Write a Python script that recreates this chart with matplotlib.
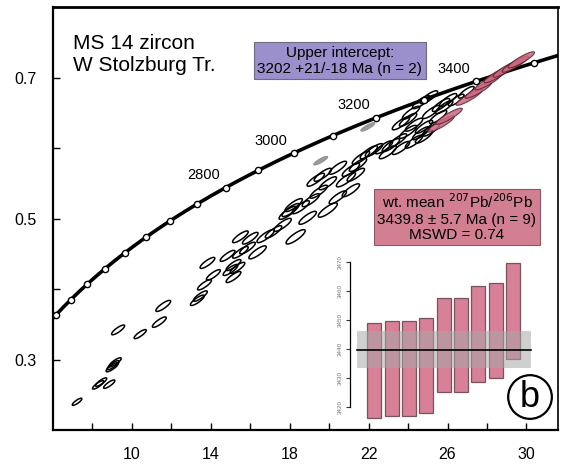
import numpy as np
import matplotlib
matplotlib.use("Agg")
from matplotlib import pyplot as plt
from matplotlib.patches import Polygon

plt.rcParams['font.family'] = ['Liberation Sans', 'DejaVu Sans']

# decay constants (per year)
l238 = 1.55125e-10
l235 = 9.8485e-10

# concordia age markers (Ma) and labelled ones
ages = [2000, 2100, 2200, 2300, 2400, 2500, 2600, 2700, 2800, 2900,
        3000, 3100, 3200, 3300, 3400, 3500]
age_labels = [2800, 3000, 3200, 3400]

# zircon analyses: 207Pb/235U, 206Pb/238U, relative ellipse size
ell_x = [7.22, 8.29, 8.44, 8.85, 9.00, 9.05, 9.15, 9.30, 10.42, 11.39, 11.59,
         13.32, 13.47, 13.68, 13.83, 14.13, 14.85, 15.00, 15.15, 15.35, 15.15,
         15.50, 15.86, 16.37, 15.50, 16.00, 16.78, 17.18, 17.64, 17.90, 18.05,
         18.20, 18.91, 18.30, 18.56, 19.07, 19.47, 19.93, 19.68, 19.32, 20.44,
         21.10, 21.46, 20.85, 21.10, 20.44, 19.93, 21.61, 22.01, 21.35, 22.27,
         22.78, 22.98, 23.13, 23.49, 23.64, 23.64, 24.00, 24.00, 24.15, 24.30,
         24.30, 24.66, 24.66, 24.81, 24.81, 25.06, 25.17, 25.17, 25.52, 25.67,
         25.83, 26.03, 26.44, 26.95]
ell_y = [0.240, 0.264, 0.268, 0.265, 0.289, 0.292, 0.296, 0.342, 0.336, 0.353, 0.376,
         0.384, 0.390, 0.406, 0.437, 0.420, 0.447, 0.427, 0.417, 0.430, 0.434,
         0.452, 0.458, 0.452, 0.474, 0.472, 0.475, 0.481, 0.491, 0.508, 0.512,
         0.519, 0.501, 0.474, 0.516, 0.526, 0.538, 0.550, 0.562, 0.555, 0.572,
         0.569, 0.576, 0.555, 0.540, 0.530, 0.512, 0.586, 0.594, 0.562, 0.597,
         0.601, 0.594, 0.604, 0.611, 0.600, 0.635, 0.623, 0.640, 0.650, 0.633,
         0.609, 0.621, 0.665, 0.630, 0.616, 0.672, 0.626, 0.651, 0.644, 0.661,
         0.658, 0.668, 0.668, 0.679]
ell_s = [0.55, 0.65, 0.65, 0.65, 0.7, 0.7, 0.7, 0.75, 0.7, 0.8, 0.85,
         0.8, 0.8, 0.8, 0.85, 0.8, 0.85, 0.85, 0.85, 0.85, 0.85,
         0.9, 0.9, 1.0, 0.9, 0.9, 1.0, 0.95, 1.0, 1.0, 1.0,
         1.0, 1.0, 1.1, 1.0, 1.0, 1.0, 1.0, 1.0, 1.0, 1.0,
         1.0, 1.0, 1.1, 1.0, 1.0, 1.1, 1.0, 1.0, 1.0, 1.0,
         1.0, 1.0, 1.0, 1.0, 1.0, 1.0, 1.0, 1.0, 1.0, 1.0,
         1.0, 1.0, 1.0, 1.0, 1.0, 1.0, 1.0, 1.0, 1.0, 1.0,
         1.0, 1.0, 0.9, 0.9]

# upper intercept analyses (grey)
grey_x = [19.57, 21.96]
grey_y = [0.582, 0.630]

# analyses used for the weighted mean (pink)
pink_x = [25.67, 26.08, 27.10, 27.56, 28.06, 28.52, 28.98, 29.44, 29.74]
pink_y = [0.634, 0.645, 0.672, 0.682, 0.694, 0.704, 0.712, 0.719, 0.725]

# inset: 207Pb/206Pb ages, bar tops and bottoms (Ma)
bar_top = [3449.0, 3449.8, 3449.8, 3450.8, 3457.7, 3457.7, 3461.7, 3462.6, 3469.8]
bar_bot = [3416.1, 3417.0, 3417.0, 3417.9, 3425.1, 3425.1, 3428.7, 3429.9, 3436.5]
wmean = 3439.8
wmean_err = 6.5


def err_ellipse(cx, cy, sx, sy, rho, n=60):
    t = np.linspace(0, 2 * np.pi, n)
    xs = cx + sx * np.cos(t)
    ys = cy + sy * (rho * np.cos(t) + np.sqrt(1 - rho ** 2) * np.sin(t))
    return np.column_stack([xs, ys])


fig = plt.figure(figsize=(5.65, 4.70), dpi=100)
ax = fig.add_axes([0.0938, 0.0851, 0.8938, 0.900])

# concordia
tt = np.linspace(1.9e9, 3.7e9, 400)
ax.plot(np.exp(l235 * tt) - 1, np.exp(l238 * tt) - 1, '-k', lw=2.6, zorder=3)
ta = np.array(ages) * 1e6
ax.plot(np.exp(l235 * ta) - 1, np.exp(l238 * ta) - 1, 'o', ms=4.5,
        mfc='white', mec='black', mew=1.0, zorder=4)
for a in age_labels:
    ax.annotate(str(a), (np.exp(l235 * a * 1e6) - 1, np.exp(l238 * a * 1e6) - 1),
                xytext=(-16, 9), textcoords='offset points', ha='center',
                va='center', fontsize=10.5, zorder=5)

# analyses
for x, y, s in zip(ell_x, ell_y, ell_s):
    ax.add_patch(Polygon(err_ellipse(x, y, 0.44 * s, 0.0092 * s, 0.84),
                         closed=True, fill=False, ec='black', lw=1.1, zorder=2))
for x, y in zip(grey_x, grey_y):
    ax.add_patch(Polygon(err_ellipse(x, y, 0.36, 0.0062, 0.85), closed=True,
                         fc='#9a9a9a', ec='#8a8a8a', lw=0.6, zorder=2))
for x, y in zip(pink_x, pink_y):
    ax.add_patch(Polygon(err_ellipse(x, y, 0.67, 0.0115, 0.9), closed=True,
                         fc='#c9687f', ec='#5a2030', lw=0.8, alpha=0.85, zorder=3))

ax.set_xlim(6, 31.6)
ax.set_ylim(0.2, 0.8)
ax.set_xticks(np.arange(8, 31, 2))
ax.set_xticklabels([str(v) if v % 4 == 2 else '' for v in range(8, 31, 2)])
ax.set_yticks([0.3, 0.4, 0.5, 0.6, 0.7])
ax.set_yticklabels(['0.3', '', '0.5', '', '0.7'])
ax.tick_params(direction='in', length=5, width=1, labelsize=11.5, pad=12)
for sp in ax.spines.values():
    sp.set_linewidth(1.2)
ax.spines['left'].set_linewidth(1.6)
ax.spines['bottom'].set_linewidth(1.6)
ax.spines['top'].set_linewidth(2.0)

ax.text(0.04, 0.935, 'MS 14 zircon\nW Stolzburg Tr.', transform=ax.transAxes,
        fontsize=15, va='top', ha='left', linespacing=1.15)

ax.text(0.568, 0.873, 'Upper intercept:\n3202 +21/-18 Ma (n = 2)',
        transform=ax.transAxes, fontsize=11, ha='center', va='center',
        linespacing=1.15,
        bbox=dict(boxstyle='square,pad=0.25', fc='#9b8fcc', ec='#6e6a80', lw=0.8))

ax.text(0.800, 0.503,
        'wt. mean $^{207}$Pb/$^{206}$Pb\n3439.8 ± 5.7 Ma (n = 9)\nMSWD = 0.74',
        transform=ax.transAxes, fontsize=11, ha='center', va='center',
        linespacing=1.15,
        bbox=dict(boxstyle='square,pad=0.2', fc='#d27f91', ec='#8a5a66', lw=0.8))

ax.text(0.9446, 0.078, 'b', transform=ax.transAxes, fontsize=26,
        ha='center', va='center',
        bbox=dict(boxstyle='circle,pad=0.12', fc='white', ec='black', lw=1.6),
        zorder=6)

# inset with weighted mean bars
ins = fig.add_axes([350 / 565, (470 - 436) / 470, 185 / 565, 188.5 / 470])
ins.patch.set_alpha(0)
idx = np.arange(len(bar_top))
ins.bar(idx, np.array(bar_top) - np.array(bar_bot), bottom=bar_bot, width=0.81,
        color='#d3728c', edgecolor='#6a4850', lw=0.9, alpha=0.9, zorder=2)
ins.fill_between([-1.0, 9.05], wmean - wmean_err, wmean + wmean_err,
                 color='#a8a8a8', alpha=0.55, lw=0, zorder=3)
ins.plot([-1.0, 9.05], [wmean, wmean], '-k', lw=1.2, zorder=4)
ins.set_xlim(-1.416, 9.28)
ins.set_ylim(3410, 3475)
ins.set_yticks(np.arange(3420, 3471, 10))
ins.set_yticklabels([str(v) for v in range(3420, 3471, 10)], rotation=90,
                    va='center', fontsize=4.5, color='#777777')
ins.tick_params(axis='y', length=3, width=0.8, pad=2, color='#333333')
ins.set_xticks([])
for s in ['top', 'right', 'bottom']:
    ins.spines[s].set_visible(False)
ins.spines['left'].set_bounds(3420, 3470)
ins.spines['left'].set_linewidth(0.9)

fig.savefig('out.png', dpi=100)
